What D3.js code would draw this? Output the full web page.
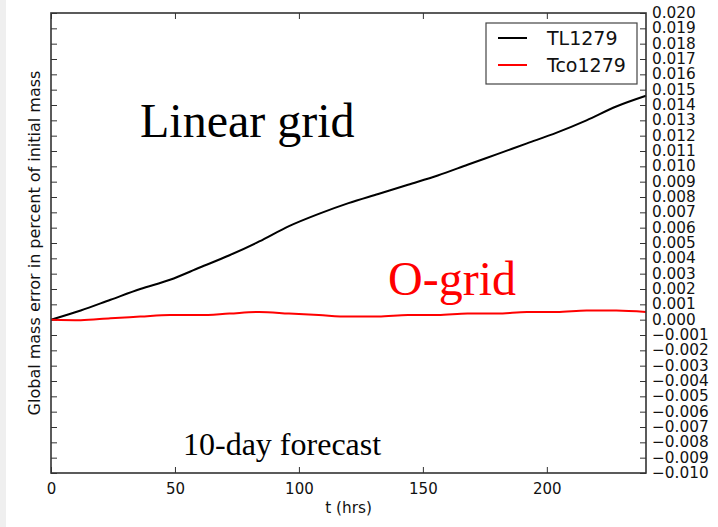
<!DOCTYPE html>
<html>
<head>
<meta charset="utf-8">
<script src="https://cdn.jsdelivr.net/npm/d3@7"></script>
<style>
  html, body { margin: 0; padding: 0; background: #fff; }
  svg { display: block; }
</style>
</head>
<body>
<svg id="chart" width="718" height="527"></svg>
<script>
// Forecast hours at which the global mass error was sampled
const hours = [0, 12, 24, 36, 48, 60, 72, 84, 96, 108, 120, 132, 144, 156, 168, 180, 192, 204, 216, 228, 240];
// Global mass error (percent of initial mass), linear grid TL1279
const tl1279 = [0, 0.0006, 0.0013, 0.0020, 0.0026, 0.0034, 0.0042, 0.0051, 0.0061, 0.0069, 0.0076, 0.0082, 0.0088, 0.0094, 0.0101, 0.0108, 0.0115, 0.0122, 0.0130, 0.0139, 0.0146];
// Global mass error (percent of initial mass), octahedral grid Tco1279
const tco1279 = [0, -0.00003, 0.0001, 0.0002, 0.0003, 0.0003, 0.0004, 0.0005, 0.0004, 0.0003, 0.0002, 0.0002, 0.0003, 0.0003, 0.0004, 0.0004, 0.0005, 0.0005, 0.0006, 0.0006, 0.0005];

const seriesNames = ["TL1279", "Tco1279"];
const seriesColors = ["#000000", "#ff0000"];

const xTicks = [0, 50, 100, 150, 200];
const yTicks = [-0.010, -0.009, -0.008, -0.007, -0.006, -0.005, -0.004, -0.003, -0.002, -0.001,
                0.000, 0.001, 0.002, 0.003, 0.004, 0.005, 0.006, 0.007, 0.008, 0.009,
                0.010, 0.011, 0.012, 0.013, 0.014, 0.015, 0.016, 0.017, 0.018, 0.019, 0.020];

const svg = d3.select("#chart");
const W = 718, H = 527;
const m = { left: 51, right: 72, top: 13, bottom: 54 };
const pw = W - m.left - m.right;
const ph = H - m.top - m.bottom;

// thin grey strip along the left edge of the figure
svg.append("rect").attr("x", 0).attr("y", 0).attr("width", 6).attr("height", H).attr("fill", "#efefef");

const x = d3.scaleLinear().domain([0, 240]).range([m.left, m.left + pw]);
const y = d3.scaleLinear().domain([-0.010, 0.020]).range([m.top + ph, m.top]);

const axisColor = "#333";
const tickFont = "'DejaVu Sans', sans-serif";

function styleAxis(g) {
  g.select(".domain").remove();
  g.selectAll(".tick line").attr("stroke", axisColor).attr("stroke-width", 1);
  g.selectAll(".tick text").attr("fill", "#111").attr("font-family", tickFont).attr("font-size", 15);
}

// left spine ticks (no labels)
svg.append("g").attr("transform", `translate(${m.left},0)`)
  .call(d3.axisLeft(y).tickValues(yTicks).tickSizeInner(-6).tickSizeOuter(0).tickFormat(""))
  .call(styleAxis);

// right spine ticks with labels outside
svg.append("g").attr("transform", `translate(${m.left + pw},0)`)
  .call(d3.axisRight(y).tickValues(yTicks).tickSizeInner(-6).tickSizeOuter(0).tickPadding(6).tickFormat(d3.format(".3f")))
  .call(styleAxis)
  .call(g => g.selectAll(".tick text").attr("dy", "0.3em").attr("font-size", 15.3));

// bottom ticks with labels
svg.append("g").attr("transform", `translate(0,${m.top + ph})`)
  .call(d3.axisBottom(x).tickValues(xTicks).tickSizeInner(-6).tickSizeOuter(0).tickPadding(10).tickFormat(d3.format("d")))
  .call(styleAxis);

// top ticks (no labels)
svg.append("g").attr("transform", `translate(0,${m.top})`)
  .call(d3.axisTop(x).tickValues(xTicks).tickSizeInner(-6).tickSizeOuter(0).tickFormat(""))
  .call(styleAxis);

// series lines
const line = d3.line().x((d, i) => x(hours[i])).y(d => y(d)).curve(d3.curveMonotoneX);
[tl1279, tco1279].forEach((vals, k) => {
  svg.append("path")
    .datum(vals)
    .attr("d", line)
    .attr("fill", "none")
    .attr("stroke", seriesColors[k])
    .attr("stroke-width", 2)
    .attr("stroke-linejoin", "round");
});

// frame
svg.append("rect")
  .attr("x", m.left).attr("y", m.top).attr("width", pw).attr("height", ph)
  .attr("fill", "none").attr("stroke", axisColor).attr("stroke-width", 1.6);

// axis titles
svg.append("text")
  .attr("x", m.left + pw / 2).attr("y", 513)
  .attr("text-anchor", "middle")
  .attr("font-family", tickFont).attr("font-size", 15.3).attr("fill", "#111")
  .text("t (hrs)");

svg.append("text")
  .attr("transform", `translate(40,${m.top + ph / 2}) rotate(-90)`)
  .attr("text-anchor", "middle")
  .attr("font-family", tickFont).attr("font-size", 16).attr("fill", "#111")
  .text("Global mass error in percent of initial mass");

// annotations
const serif = "'Liberation Serif', 'Times New Roman', serif";
svg.append("text").attr("x", 140).attr("y", 137)
  .attr("font-family", serif).attr("font-size", 48).attr("fill", "#000")
  .text("Linear grid");
svg.append("text").attr("x", 388).attr("y", 295)
  .attr("font-family", serif).attr("font-size", 48).attr("fill", "#ff0000")
  .text("O-grid");
svg.append("text").attr("x", 183).attr("y", 455)
  .attr("font-family", serif).attr("font-size", 32).attr("fill", "#000")
  .text("10-day forecast");

// legend
const lg = svg.append("g");
lg.append("rect")
  .attr("x", 486).attr("y", 23).attr("width", 151).attr("height", 61)
  .attr("fill", "#fff").attr("stroke", "#444").attr("stroke-width", 1.2);
seriesNames.forEach((name, k) => {
  const ly = 38 + k * 27;
  lg.append("line")
    .attr("x1", 498).attr("x2", 527).attr("y1", ly).attr("y2", ly)
    .attr("stroke", seriesColors[k]).attr("stroke-width", 2);
  lg.append("text")
    .attr("x", 547).attr("y", ly).attr("dy", "0.36em")
    .attr("font-family", tickFont).attr("font-size", 19).attr("fill", "#111")
    .text(name);
});
</script>
</body>
</html>
